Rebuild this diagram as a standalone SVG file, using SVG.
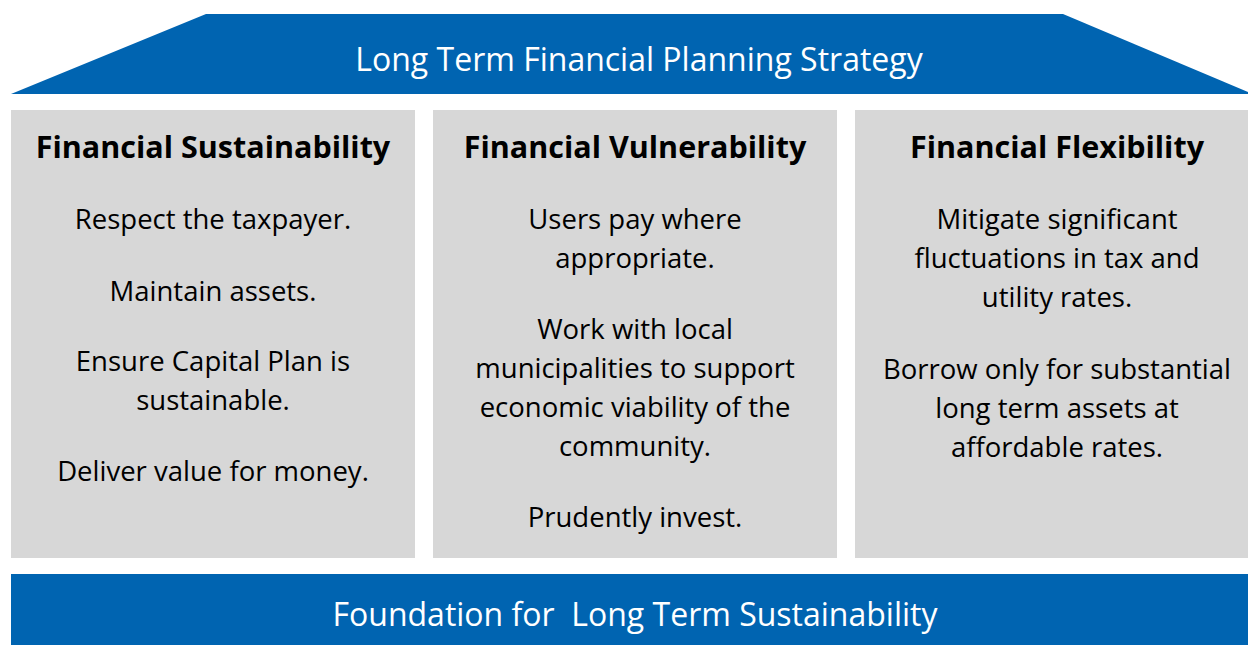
<svg xmlns="http://www.w3.org/2000/svg" width="1248" height="645" viewBox="0 0 1248 645">
<style>
.blue{fill:#0064b1}
.box{fill:#d7d7d7}
.t{font-family:"Open Sans","Liberation Sans",sans-serif;text-anchor:middle}
.title{fill:#ffffff;font-size:32px}
.head{fill:#000;font-size:30.5px;font-weight:bold}
.body{fill:#000;font-size:27.5px}
</style>
<rect width="1248" height="645" fill="#ffffff"/>
<g id="roof">
<polygon class="blue" points="206,14 1063,14 1248,92 1248,94 11,94"/>
<text class="t title" x="639" y="71">Long Term Financial Planning Strategy</text>
</g>
<g id="sustainability">
<rect class="box" x="11" y="110" width="404" height="448"/>
<text class="t head" x="213" y="158">Financial Sustainability</text>
<text class="t body" x="213" y="229">Respect the taxpayer.</text>
<text class="t body" x="213" y="301">Maintain assets.</text>
<text class="t body" x="213" y="371">Ensure Capital Plan is</text>
<text class="t body" x="213" y="410">sustainable.</text>
<text class="t body" x="213" y="481">Deliver value for money.</text>
</g>
<g id="vulnerability">
<rect class="box" x="433" y="110" width="404" height="448"/>
<text class="t head" x="635" y="158">Financial Vulnerability</text>
<text class="t body" x="635" y="229">Users pay where</text>
<text class="t body" x="635" y="268">appropriate.</text>
<text class="t body" x="635" y="339">Work with local</text>
<text class="t body" x="635" y="378">municipalities to support</text>
<text class="t body" x="635" y="417">economic viability of the</text>
<text class="t body" x="635" y="456">community.</text>
<text class="t body" x="635" y="527">Prudently invest.</text>
</g>
<g id="flexibility">
<rect class="box" x="855" y="110" width="393" height="448"/>
<text class="t head" x="1057" y="158">Financial Flexibility</text>
<text class="t body" x="1057" y="229">Mitigate significant</text>
<text class="t body" x="1057" y="268">fluctuations in tax and</text>
<text class="t body" x="1057" y="307">utility rates.</text>
<text class="t body" x="1057" y="379">Borrow only for substantial</text>
<text class="t body" x="1057" y="418">long term assets at</text>
<text class="t body" x="1057" y="457">affordable rates.</text>
</g>
<g id="foundation">
<rect class="blue" x="11" y="574" width="1237" height="71"/>
<text class="t title" x="635" y="626" xml:space="preserve">Foundation for  Long Term Sustainability</text>
</g>
<g id="connectors"/>
</svg>
